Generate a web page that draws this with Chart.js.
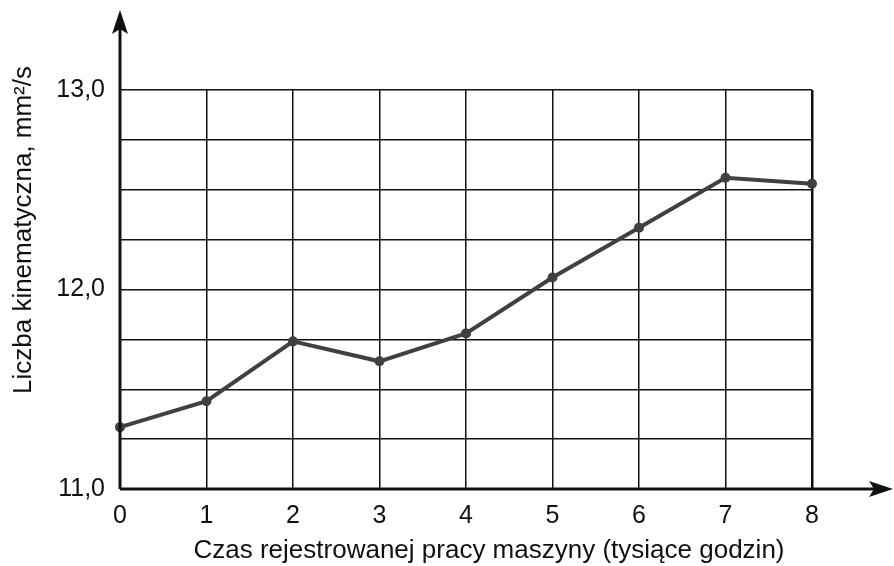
<!DOCTYPE html>
<html>
<head>
<meta charset="utf-8">
<script src="https://cdn.jsdelivr.net/npm/chart.js@4.4.1/dist/chart.umd.min.js"></script>
<style>
  html, body { margin: 0; padding: 0; background: #fff; }
  #wrap { width: 894px; height: 566px; }
</style>
</head>
<body>
<div id="wrap"><canvas id="chart" width="894" height="566"></canvas></div>
<script>
// czas pracy (tys. godzin) i lepkość kinematyczna
const hours = [0, 1, 2, 3, 4, 5, 6, 7, 8];
const viscosity = [11.31, 11.44, 11.74, 11.64, 11.78, 12.06, 12.31, 12.56, 12.53];
const yLabels = ['11,0', '12,0', '13,0'];
const xTitle = 'Czas rejestrowanej pracy maszyny (tysiące godzin)';
const yTitle = 'Liczba kinematyczna, mm²/s';

const FONT = '"Liberation Sans", Arial, sans-serif';
const INK = '#111';
const LINE = '#404040';

const arrowsAndTitles = {
  id: 'arrowsAndTitles',
  afterDraw(chart) {
    const { ctx, chartArea: a } = chart;
    ctx.save();
    ctx.strokeStyle = INK;
    ctx.fillStyle = INK;
    ctx.lineWidth = 3;
    // oś pionowa ze strzałką
    ctx.beginPath();
    ctx.moveTo(a.left, a.bottom);
    ctx.lineTo(a.left, 24);
    ctx.stroke();
    ctx.beginPath();
    ctx.moveTo(a.left, 10);
    ctx.lineTo(a.left - 8, 34);
    ctx.lineTo(a.left, 29);
    ctx.lineTo(a.left + 8, 34);
    ctx.closePath();
    ctx.fill();
    // oś pozioma ze strzałką
    ctx.beginPath();
    ctx.moveTo(a.left, a.bottom);
    ctx.lineTo(880, a.bottom);
    ctx.stroke();
    ctx.beginPath();
    ctx.moveTo(893, a.bottom);
    ctx.lineTo(869, a.bottom - 8);
    ctx.lineTo(874, a.bottom);
    ctx.lineTo(869, a.bottom + 8);
    ctx.closePath();
    ctx.fill();
    // tytuły osi
    ctx.font = '26px ' + FONT;
    ctx.textAlign = 'center';
    ctx.textBaseline = 'middle';
    ctx.fillText(xTitle, 489, 551);
    ctx.translate(24, 230);
    ctx.rotate(-Math.PI / 2);
    ctx.fillText(yTitle, 0, 0);
    ctx.restore();
  }
};

new Chart(document.getElementById('chart'), {
  type: 'line',
  data: {
    datasets: [{
      data: hours.map((h, i) => ({ x: h, y: viscosity[i] })),
      borderColor: LINE,
      backgroundColor: LINE,
      borderWidth: 4,
      pointRadius: 5,
      pointHoverRadius: 5,
      pointBackgroundColor: LINE,
      pointBorderWidth: 0,
      tension: 0,
      fill: false,
      clip: false,
    }],
  },
  options: {
    responsive: false,
    animation: false,
    layout: { padding: { top: 90, right: 82, left: 0, bottom: 0 } },
    plugins: {
      legend: { display: false },
      tooltip: { enabled: false },
    },
    scales: {
      x: {
        type: 'linear',
        min: 0,
        max: 8,
        afterFit: (s) => { s.height = 77; },
        ticks: {
          stepSize: 1,
          color: INK,
          padding: 12,
          font: { family: FONT, size: 25 },
        },
        grid: {
          color: INK,
          lineWidth: (c) => (c.index === 8 ? 2.5 : 1.5),
          drawTicks: false,
        },
        border: { display: false },
      },
      y: {
        min: 11,
        max: 13,
        afterFit: (s) => { s.width = 120; },
        ticks: {
          stepSize: 0.25,
          color: INK,
          padding: 15,
          font: { family: FONT, size: 25 },
          callback: (v) => (Number.isInteger(v) ? yLabels[v - 11] : ''),
        },
        grid: {
          color: INK,
          lineWidth: 1.5,
          drawTicks: false,
        },
        border: { display: false },
      },
    },
  },
  plugins: [arrowsAndTitles],
});
</script>
</body>
</html>
